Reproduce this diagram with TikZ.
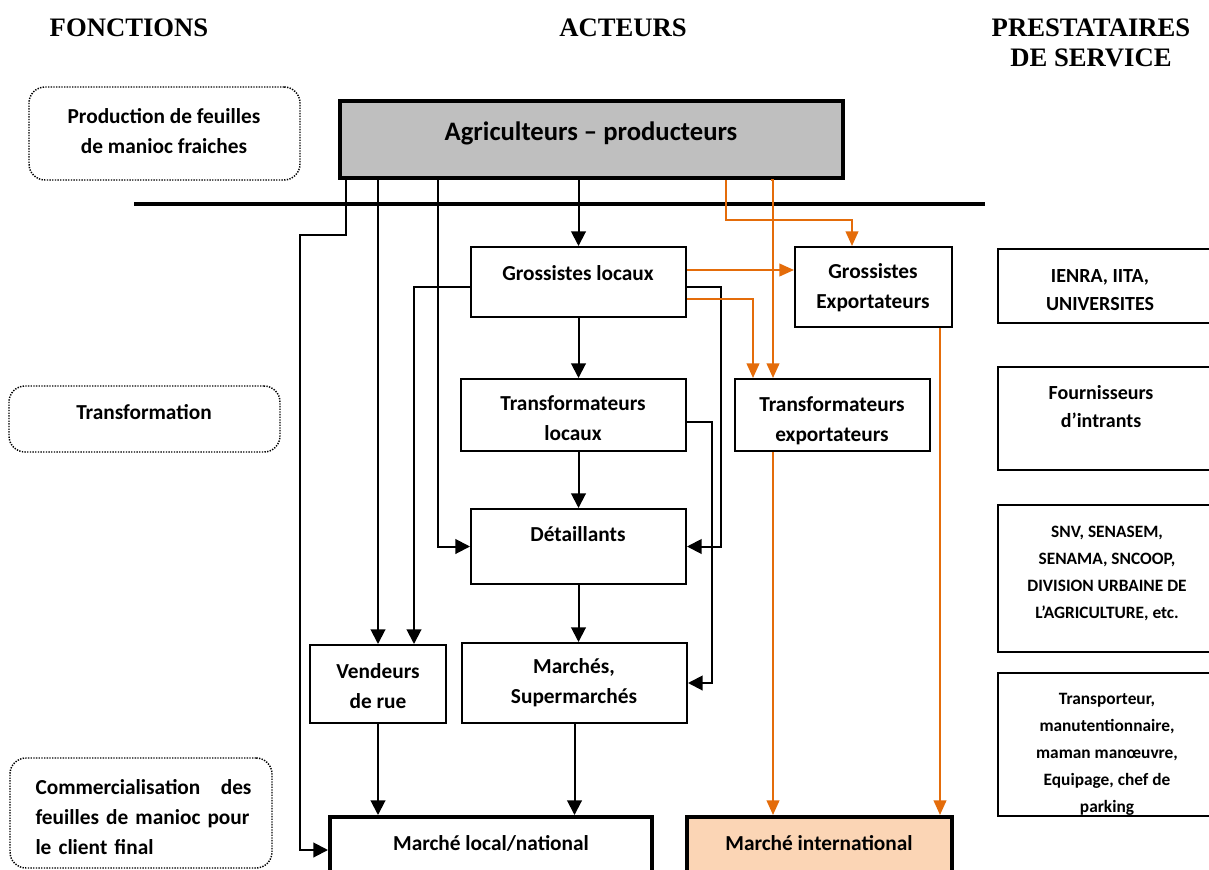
\documentclass[tikz,border=0pt]{standalone}
\usepackage{fontspec}
\setmainfont{Carlito}
\newfontfamily\hdrfont{Liberation Serif}
\usetikzlibrary{arrows.meta,fit,calc}
\tikzset{every picture/.style={line width=0.75pt}}
\definecolor{orng}{RGB}{228,108,10}
\definecolor{peach}{RGB}{251,213,181}
\definecolor{prodgray}{RGB}{191,191,191}

\begin{document}
\begin{tikzpicture}[x=0.75pt,y=0.75pt,yscale=-1,xscale=1,
  actor/.style={draw, line width=1.5pt, inner sep=0pt},
  market/.style={draw, line width=3pt, inner sep=0pt},
  prest/.style={draw, line width=1.2pt, inner sep=0pt},
  func/.style={draw, dash pattern=on 1pt off 1pt, line width=1.1pt, rounded corners=12pt, inner sep=0pt},
  flow/.style={line width=1.5pt, -{Triangle[length=11pt,width=11pt]}},
  oflow/.style={line width=1.5pt, draw=orng, -{Triangle[length=11pt,width=9.5pt]}},
  lbl/.style={font=\fontsize{16}{22.5}\selectfont\bfseries, align=center, inner sep=0pt},
  mlbl/.style={font=\fontsize{15}{21}\selectfont\bfseries, align=center, inner sep=0pt},
  slbl/.style={font=\fontsize{13}{20.25}\selectfont\bfseries, align=center, inner sep=0pt},
  hdr/.style={font=\hdrfont\fontsize{20}{22.5}\selectfont\bfseries, align=center, inner sep=0pt}]
\useasboundingbox (0,0) rectangle (1209,870);

%Shape: Rectangle [fonctions]
\node[func, fit={(29,87) (300,180)}] (prod) {};
\node[func, fit={(9,386) (280,452)}] (trans) {};
\node[func, fit={(10,758) (272,868)}] (comm) {};
%Straight Lines [separator]
\draw[line width=2.5pt] (134,204) -- (985,204);
%Shape: Rectangle [acteurs]
\node[actor, fill=prodgray, line width=3pt, fit={(340,101) (843,178)}] (agri) {};
\node[actor, fit={(471,247) (686,317)}] (gl) {};
\node[actor, fit={(461,379) (686,451)}] (tl) {};
\node[actor, fit={(471,509) (686,584)}] (dt) {};
\node[actor, fit={(310,645) (446,723)}] (vr) {};
\node[actor, fit={(462,643) (687,723)}] (ms) {};
\node[actor, fit={(795,247) (952,327)}] (ge) {};
\node[actor, fit={(735,379) (930,451)}] (te) {};
\node[market, fit={(330,817) (652,883)}] (ml) {};
\node[market, fill=peach, fit={(687,817) (952,883)}] (mi) {};
%Shape: Rectangle [prestataires]
\node[prest, fit={(998,249) (1218,323)}] (ienra) {};
\node[prest, fit={(998,367) (1218,470)}] (fourn) {};
\node[prest, fit={(998,505) (1218,652)}] (snv) {};
\node[prest, fit={(998,673) (1218,816)}] (transp) {};

%Straight Lines [local chain]
\draw[flow] (agri.south -| gl.north) -- (gl.north);
\draw[flow] (gl.south) -- (gl.south |- tl.north);
\draw[flow] (tl.south -| dt.north) -- (dt.north);
\draw[flow] (dt.south) -- (dt.south |- ms.north);
\draw[flow] (ms.south) -- (ms.south |- ml.north);
\draw[flow] (vr.south) -- (vr.south |- ml.north);
\draw[flow] (agri.south -| vr.north) -- (vr.north);
\draw[flow] ($(gl.west)+(0,5)$) -| ($(vr.north)+(36,0)$);
\draw[flow] ($(agri.south west)+(100,0)$) |- (dt.west);
\draw[flow] ($(agri.south west)+(8,0)$) |- ++(-46,55) |- (ml.west);
\draw[flow] ($(gl.east)+(0,5)$) -- ++(34,0) |- (dt.east);
\draw[flow] ($(tl.east)+(0,7)$) -- ++(25,0) |- (ms.east);
%Straight Lines [export chain]
\draw[oflow] ($(agri.south west)+(388,0)$) -- ++(0,40) -| ($(ge.north)+(-21.5,0)$);
\draw[oflow] ($(agri.south west)+(433,0)$) -| ($(te.north)+(-59.5,0)$);
\draw[oflow] ($(gl.east)+(0,-12)$) -- ($(ge.west)+(0,-17)$);
\draw[oflow] ($(gl.east)+(0,17)$) -| ($(te.north)+(-79.5,0)$);
\draw[oflow] ($(ge.south)+(66.5,0)$) -- ($(mi.north)+(120.5,0)$);
\draw[oflow] ($(te.south)+(-59.5,0)$) -- ($(mi.north)+(-46.5,0)$);

% Text Node
\node[hdr] (hfonc) at (129,28) {FONCTIONS};
\node[hdr] (hact) at (623,28) {ACTEURS};
\node[hdr] (hprest) at (1091,43) {PRESTATAIRES\\DE SERVICE};
% Text Node
\node[lbl] (tprod) at (164,131) {Production de feuilles\\de manioc fraiches};
\node[lbl] (ttrans) at (144,412) {Transformation};
\node[lbl, text width=162pt, align=left, anchor=west] (tcomm) at (35,817) {\makebox[162pt][s]{Commercialisation\hskip 0pt plus 1fil des}\\\makebox[162pt][s]{feuilles de manioc pour}\\le client final};
% Text Node
\node[lbl, font=\fontsize{20}{24}\selectfont\bfseries] (tagri) at (591,133) {Agriculteurs – producteurs};
\node[lbl] (tgl) at (578,273) {Grossistes locaux};
\node[lbl] (ttl) at (573,418) {Transformateurs\\locaux};
\node[lbl] (tdt) at (578,534) {Détaillants};
\node[lbl] (tvr) at (378,686) {Vendeurs\\de rue};
\node[lbl] (tms) at (574,683) {Marchés,\\Supermarchés};
\node[lbl] (tge) at (873,288) {Grossistes\\Exportateurs};
\node[lbl] (tte) at (832,421) {Transformateurs\\exportateurs};
\node[lbl] (tml) at (491,843) {Marché local/national};
\node[lbl] (tmi) at (819,843) {Marché international};
% Text Node
\node[mlbl] (tienra) at (1100,290) {IENRA, IITA,\\UNIVERSITES};
\node[mlbl] (tfourn) at (1101,407) {Fournisseurs\\d’intrants};
\node[slbl] (tsnv) at (1107,573) {SNV, SENASEM,\\SENAMA, SNCOOP,\\DIVISION URBAINE DE\\L’AGRICULTURE, etc.};
\node[slbl] (ttransp) at (1107,754) {Transporteur,\\manutentionnaire,\\maman manœuvre,\\Equipage, chef de\\parking};

\end{tikzpicture}
\end{document}
